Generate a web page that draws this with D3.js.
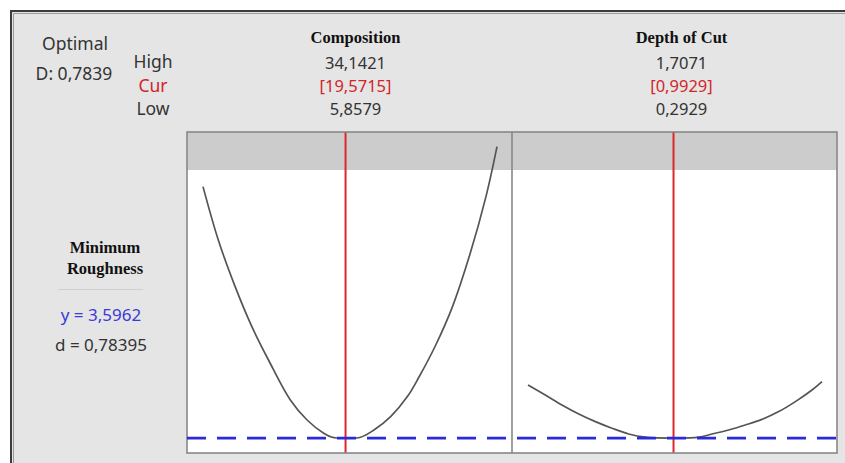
<!DOCTYPE html>
<html>
<head>
<meta charset="utf-8">
<script src="https://cdn.jsdelivr.net/npm/d3@7"></script>
<style>
  html, body { margin: 0; padding: 0; background: #ffffff; }
  svg { display: block; }
</style>
</head>
<body>
<svg id="chart" width="845" height="463"></svg>
<script>
// Optimization plot: predicted roughness against each factor at the optimal setting

const factorNames = ["Composition", "Depth of Cut"];
const factorLow = [5.8579, 0.2929];
const factorHigh = [34.1421, 1.7071];
const factorCur = [19.5715, 0.9929];

// Predicted response along the Composition range (other factor held at its optimum)
const compX = [5.8579, 7.33, 8.95, 10.56, 12.16, 14.26, 15.87, 17.47, 18.28, 19.5715, 21.01, 22.30, 23.91, 25.52, 26.64, 28.25, 29.86, 31.47, 33.08, 34.1421];
const compY = [16.17, 13.50, 11.17, 9.17, 7.50, 5.50, 4.50, 3.84, 3.64, 3.5962, 3.64, 4.00, 4.67, 5.67, 6.65, 8.25, 10.17, 12.67, 15.67, 18.17];

// Predicted response along the Depth of Cut range
const depthX = [0.2929, 0.376, 0.456, 0.537, 0.617, 0.697, 0.777, 0.857, 0.9929, 1.114, 1.178, 1.258, 1.338, 1.418, 1.499, 1.579, 1.659, 1.7071];
const depthY = [6.25, 5.75, 5.25, 4.80, 4.42, 4.09, 3.80, 3.64, 3.5962, 3.64, 3.80, 4.00, 4.25, 4.53, 4.92, 5.42, 6.00, 6.42];

const responseName = ["Minimum", "Roughness"];
const responseOpt = 3.5962;
const desirabilityInd = 0.78395;
const desirabilityComp = 0.7839;
const yDomain = [2.85, 18.9];
const shadeFrom = 17.0;

(function draw() {
  const loc = d3.formatLocale({ decimal: ",", thousands: ".", grouping: [3], currency: ["", ""] });
  const f4 = loc.format(".4f");
  const f5 = loc.format(".5f");

  const svg = d3.select("#chart");
  const sans = "'Noto Sans', 'Open Sans', sans-serif";
  const serif = "'Liberation Serif', 'DejaVu Serif', serif";

  // window frame
  svg.append("rect").attr("x", 11).attr("y", 11).attr("width", 845).attr("height", 463)
    .attr("fill", "#e5e5e5").attr("stroke", "#3c3c3c").attr("stroke-width", 2);
  svg.append("path").attr("d", "M13.5,474 V13.5 H860")
    .attr("fill", "none").attr("stroke", "#9a9a9a").attr("stroke-width", 1);

  // panel geometry
  const pTop = 132, pBottom = 453, pLeft = 187, pWidth = 325;
  const y = d3.scaleLinear().domain(yDomain).range([pBottom, pTop]);

  const curves = [
    { xs: compX, ys: compY },
    { xs: depthX, ys: depthY }
  ];
  const headerCenters = [355.5, 681.5];

  factorNames.forEach((name, i) => {
    const px = pLeft + i * pWidth;
    const x = d3.scaleLinear().domain([factorLow[i], factorHigh[i]]).range([px + 16, px + pWidth - 15]);
    const g = svg.append("g");

    g.append("rect").attr("x", px).attr("y", pTop).attr("width", pWidth).attr("height", pBottom - pTop)
      .attr("fill", "#ffffff");
    g.append("rect").attr("x", px).attr("y", pTop).attr("width", pWidth).attr("height", y(shadeFrom) - pTop)
      .attr("fill", "#cccccc");

    const pts = curves[i].xs.map((v, k) => [v, curves[i].ys[k]]);
    g.append("path").datum(pts)
      .attr("fill", "none").attr("stroke", "#555555").attr("stroke-width", 1.7)
      .attr("d", d3.line().x(d => x(d[0])).y(d => y(d[1])).curve(d3.curveCatmullRom.alpha(0.5)));

    g.append("line").attr("x1", x(factorCur[i])).attr("x2", x(factorCur[i]))
      .attr("y1", pTop).attr("y2", pBottom)
      .attr("stroke", "#e0262a").attr("stroke-width", 2);

    // header text above the panel
    const cx = headerCenters[i];
    svg.append("text").attr("x", cx).attr("y", 43).attr("text-anchor", "middle")
      .attr("font-family", serif).attr("font-weight", "bold").attr("font-size", 16.5)
      .attr("fill", "#111").text(name);
    svg.append("text").attr("x", cx).attr("y", 69).attr("text-anchor", "middle")
      .attr("font-family", sans).attr("font-size", 16.5).attr("fill", "#333")
      .text(f4(factorHigh[i]));
    svg.append("text").attr("x", cx).attr("y", 91.5).attr("text-anchor", "middle")
      .attr("font-family", sans).attr("font-size", 16.5).attr("fill", "#d0262a")
      .text("[" + f4(factorCur[i]) + "]");
    svg.append("text").attr("x", cx).attr("y", 114.5).attr("text-anchor", "middle")
      .attr("font-family", sans).attr("font-size", 16.5).attr("fill", "#333")
      .text(f4(factorLow[i]));
  });

  // panel borders
  svg.append("rect").attr("x", pLeft).attr("y", pTop).attr("width", pWidth * 2).attr("height", pBottom - pTop)
    .attr("fill", "none").attr("stroke", "#888888").attr("stroke-width", 1.6);
  svg.append("line").attr("x1", pLeft + pWidth).attr("x2", pLeft + pWidth).attr("y1", pTop).attr("y2", pBottom)
    .attr("stroke", "#888888").attr("stroke-width", 1.6);

  // optimal response reference line
  svg.append("line").attr("x1", pLeft).attr("x2", 845).attr("y1", y(responseOpt)).attr("y2", y(responseOpt))
    .attr("stroke", "#2b2bdc").attr("stroke-width", 2.6).attr("stroke-dasharray", "19,11");

  // left-hand labels
  svg.append("text").attr("x", 75).attr("y", 50).attr("text-anchor", "middle")
    .attr("font-family", sans).attr("font-size", 17.5).attr("fill", "#333").text("Optimal");
  svg.append("text").attr("x", 74).attr("y", 80).attr("text-anchor", "middle")
    .attr("font-family", sans).attr("font-size", 17.5).attr("fill", "#333")
    .text("D: " + f4(desirabilityComp));
  [["High", 68, "#333"], ["Cur", 92, "#d0262a"], ["Low", 114.5, "#333"]].forEach(r => {
    svg.append("text").attr("x", 153).attr("y", r[1]).attr("text-anchor", "middle")
      .attr("font-family", sans).attr("font-size", 17.5).attr("fill", r[2]).text(r[0]);
  });

  responseName.forEach((t, k) => {
    svg.append("text").attr("x", 105).attr("y", 253 + k * 20.5).attr("text-anchor", "middle")
      .attr("font-family", serif).attr("font-weight", "bold").attr("font-size", 16.5)
      .attr("fill", "#111").text(t);
  });
  svg.append("line").attr("x1", 58).attr("x2", 143).attr("y1", 289.5).attr("y2", 289.5)
    .attr("stroke", "#cfcfcf").attr("stroke-width", 1);
  svg.append("text").attr("x", 101).attr("y", 320.5).attr("text-anchor", "middle")
    .attr("font-family", sans).attr("font-size", 17).attr("fill", "#3a3ad6")
    .text("y = " + f4(responseOpt));
  svg.append("text").attr("x", 101).attr("y", 351).attr("text-anchor", "middle")
    .attr("font-family", sans).attr("font-size", 17).attr("fill", "#333")
    .text("d = " + f5(desirabilityInd));
})();
</script>
</body>
</html>
